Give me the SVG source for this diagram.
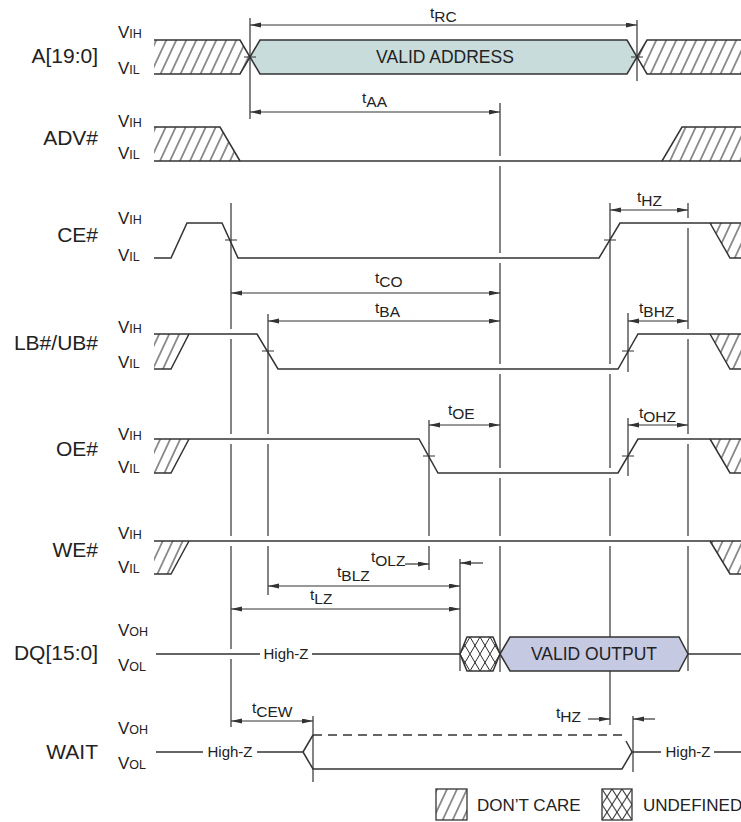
<svg xmlns="http://www.w3.org/2000/svg" width="741" height="822" viewBox="0 0 741 822">
<defs>
<pattern id="hatch" patternUnits="userSpaceOnUse" width="10" height="10" patternTransform="skewX(-25)">
<line x1="5" y1="-1" x2="5" y2="11" stroke="#2a2a2a" stroke-width="1.1"/>
</pattern>
<pattern id="xhatch" patternUnits="userSpaceOnUse" x="460" y="637" width="10" height="17">
<path d="M0,0 L10,17 M10,0 L0,17" stroke="#2a2a2a" stroke-width="1" fill="none"/>
</pattern>
<pattern id="xhatch2" patternUnits="userSpaceOnUse" x="602" y="789" width="10" height="15.5">
<path d="M0,0 L10,15.5 M10,0 L0,15.5" stroke="#2a2a2a" stroke-width="1" fill="none"/>
</pattern>
<marker id="ah" markerUnits="userSpaceOnUse" markerWidth="12" markerHeight="6" refX="11" refY="2.5" orient="auto-start-reverse">
<path d="M0,0 L11,2.5 L0,5 z" fill="#333"/>
</marker>
<style>
.sig{fill:none;stroke:#333;stroke-width:1.5;stroke-linejoin:miter}
.hf{fill:url(#hatch);stroke:none}
.ref{fill:none;stroke:#333;stroke-width:1.2}
.a2{fill:none;stroke:#333;stroke-width:1.2;marker-start:url(#ah);marker-end:url(#ah)}
.a1{fill:none;stroke:#333;stroke-width:1.2;marker-end:url(#ah)}
text{font-family:"Liberation Sans",Arial,sans-serif;fill:#222}
.lbl{font-size:21px;text-anchor:end}
.v{font-size:17px}
.vs{font-size:12.5px}
.t{font-size:15.5px}
.hz{font-size:15px;text-anchor:middle}
.box{font-size:17.5px;text-anchor:middle}
.leg{font-size:17px}
</style>
</defs>
<rect width="741" height="822" fill="#fff"/>

<g id="sig-a">
<text class="lbl" x="98" y="63">A[19:0]</text>
<text class="v" x="118" y="38">V<tspan class="vs">IH</tspan></text>
<text class="v" x="118" y="74">V<tspan class="vs">IL</tspan></text>
<polygon class="hf" points="154,40 240,40 250,57 240,74 154,74"/>
<path class="sig" d="M154,40 H240 L250,57 L240,74 H154"/>
<polygon points="250,57 260,40 627,40 637,57 627,74 260,74" fill="#c9dcdc" stroke="#333" stroke-width="1.5"/>
<text class="box" x="445" y="63">VALID ADDRESS</text>
<polygon class="hf" points="637,57 647,40 741,40 741,74 647,74"/>
<path class="sig" d="M741,40 H647 L637,57 L647,74 H741"/>
</g>

<g id="sig-adv">
<text class="lbl" x="98" y="145">ADV#</text>
<text class="v" x="118" y="127">V<tspan class="vs">IH</tspan></text>
<text class="v" x="118" y="159">V<tspan class="vs">IL</tspan></text>
<polygon class="hf" points="154,127 220,127 240,161 154,161"/>
<path class="sig" d="M154,127 H220 L240,161"/>
<path class="sig" d="M154,161 H741"/>
<polygon class="hf" points="662,161 682,127 741,127 741,161"/>
<path class="sig" d="M662,161 L682,127 H741"/>
</g>

<g id="sig-ce">
<text class="lbl" x="98" y="242">CE#</text>
<text class="v" x="118" y="224">V<tspan class="vs">IH</tspan></text>
<text class="v" x="118" y="261">V<tspan class="vs">IL</tspan></text>
<path class="sig" d="M154,258 H171 L187,223 H222 L238,258 H599 L620,223 H741"/>
<polygon class="hf" points="710,223 741,223 741,258 730,258"/>
<path class="sig" d="M710,223 L730,258 H741"/>
</g>

<g id="sig-lb">
<text class="lbl" x="98" y="350">LB#/UB#</text>
<text class="v" x="118" y="333">V<tspan class="vs">IH</tspan></text>
<text class="v" x="118" y="368">V<tspan class="vs">IL</tspan></text>
<polygon class="hf" points="154,334 189,334 171,369 154,369"/>
<path class="sig" d="M154,369 H171 L189,334"/>
<path class="sig" d="M154,334 H257 L278,369 H618 L638,334 H741"/>
<polygon class="hf" points="710,334 741,334 741,369 730,369"/>
<path class="sig" d="M710,334 L730,369 H741"/>
</g>

<g id="sig-oe">
<text class="lbl" x="98" y="456">OE#</text>
<text class="v" x="118" y="440">V<tspan class="vs">IH</tspan></text>
<text class="v" x="118" y="473">V<tspan class="vs">IL</tspan></text>
<polygon class="hf" points="154,439 189,439 171,473 154,473"/>
<path class="sig" d="M154,473 H171 L189,439"/>
<path class="sig" d="M154,439 H419 L438,473 H618 L638,439 H741"/>
<polygon class="hf" points="710,439 741,439 741,473 730,473"/>
<path class="sig" d="M710,439 L730,473 H741"/>
</g>

<g id="sig-we">
<text class="lbl" x="98" y="557">WE#</text>
<text class="v" x="118" y="539">V<tspan class="vs">IH</tspan></text>
<text class="v" x="118" y="573">V<tspan class="vs">IL</tspan></text>
<polygon class="hf" points="154,541 189,541 171,574 154,574"/>
<path class="sig" d="M154,574 H171 L189,541"/>
<path class="sig" d="M154,541 H741"/>
<polygon class="hf" points="710,541 741,541 741,574 730,574"/>
<path class="sig" d="M710,541 L730,574 H741"/>
</g>

<g id="connectors">
<path class="ref" d="M250,18 V119 M637,20 V81
M500,103 V156 M500,166 V253 M500,263 V364 M500,374 V468 M500,478 V536 M500,546 V672
M231,203 V329 M231,339 V434 M231,444 V536 M231,546 V649 M231,659 V727
M268,314 V434 M268,444 V536 M268,546 V595
M429,420 V536 M429,546 V570
M460,559 V671
M610,203 V364 M610,374 V468 M610,478 V536 M610,546 V637 M610,671 V725
M688,203 V218 M688,228 V329 M688,339 V434 M688,444 V536 M688,546 V671
M628,313 V372 M628,418 V476
M313,716 V782 M633,716 V772"/>
<path class="ref" stroke-width="1.5" d="M244,57 H256 M631,57 H643 M225,240 H237 M604,240 H616 M262,351 H274 M622,351 H634 M423,456 H435 M622,456 H634"/>
<path class="a2" d="M250,25 H637"/>
<path class="a2" d="M250,112 H500"/>
<path class="a2" d="M231,293 H500"/>
<path class="a2" d="M268,321 H500"/>
<path class="a2" d="M610,210 H688"/>
<path class="a2" d="M628,321 H688"/>
<path class="a2" d="M429,425 H500"/>
<path class="a2" d="M628,425 H688"/>
<path class="a1" d="M405,564 H429"/>
<path class="a1" d="M483,563 H460"/>
<path class="a2" d="M268,586 H460"/>
<path class="a2" d="M231,609 H460"/>
<path class="a2" d="M231,721 H313"/>
<path class="a1" d="M588,719 H610"/>
<path class="a1" d="M655,719 H633"/>
<text class="t" x="430" y="18">t<tspan dy="4">RC</tspan></text>
<text class="t" x="362" y="103">t<tspan dy="4">AA</tspan></text>
<text class="t" x="375" y="283">t<tspan dy="4">CO</tspan></text>
<text class="t" x="375" y="313">t<tspan dy="4">BA</tspan></text>
<text class="t" x="637" y="202">t<tspan dy="4">HZ</tspan></text>
<text class="t" x="639" y="313">t<tspan dy="4">BHZ</tspan></text>
<text class="t" x="448" y="415">t<tspan dy="4">OE</tspan></text>
<text class="t" x="639" y="418">t<tspan dy="4">OHZ</tspan></text>
<text class="t" x="371" y="562">t<tspan dy="4">OLZ</tspan></text>
<text class="t" x="337" y="577">t<tspan dy="4">BLZ</tspan></text>
<text class="t" x="310" y="600">t<tspan dy="4">LZ</tspan></text>
<text class="t" x="252" y="713">t<tspan dy="4">CEW</tspan></text>
<text class="t" x="556" y="718">t<tspan dy="4">HZ</tspan></text>
</g>

<g id="sig-dq">
<text class="lbl" x="98" y="660">DQ[15:0]</text>
<text class="v" x="118" y="636">V<tspan class="vs">OH</tspan></text>
<text class="v" x="118" y="671">V<tspan class="vs">OL</tspan></text>
<path class="sig" d="M156,654 H260 M312,654 H460"/>
<text class="hz" x="286" y="659">High-Z</text>
<polygon points="460,654 467,637 493,637 500,654 493,671 467,671" fill="url(#xhatch)" stroke="#333" stroke-width="1.5"/>
<polygon points="500,654 510,637 679,637 688,654 679,671 510,671" fill="#c6c9e2" stroke="#333" stroke-width="1.5"/>
<text class="box" x="594" y="660">VALID OUTPUT</text>
<path class="sig" d="M688,654 H741"/>
</g>

<g id="sig-wait">
<text class="lbl" x="98" y="759">WAIT</text>
<text class="v" x="118" y="734">V<tspan class="vs">OH</tspan></text>
<text class="v" x="118" y="769">V<tspan class="vs">OL</tspan></text>
<path class="sig" d="M156,752 H203 M257,752 H303"/>
<text class="hz" x="230" y="757">High-Z</text>
<path class="sig" d="M303,752 L313,735 M303,752 L313,769 H622 L632,752 M626,741 L632,752"/>
<path class="sig" stroke-dasharray="9 6" d="M313,735 H622"/>
<path class="sig" d="M632,752 H661 M714,752 H741"/>
<text class="hz" x="688" y="757">High-Z</text>
</g>

<g id="legend">
<rect x="436" y="789" width="31" height="31" fill="url(#hatch)" stroke="#333" stroke-width="1.3"/>
<text class="leg" x="477" y="811">DON’T CARE</text>
<rect x="602" y="789" width="30" height="31" fill="url(#xhatch2)" stroke="#333" stroke-width="1.3"/>
<text class="leg" x="643" y="811">UNDEFINED</text>
</g>
</svg>
